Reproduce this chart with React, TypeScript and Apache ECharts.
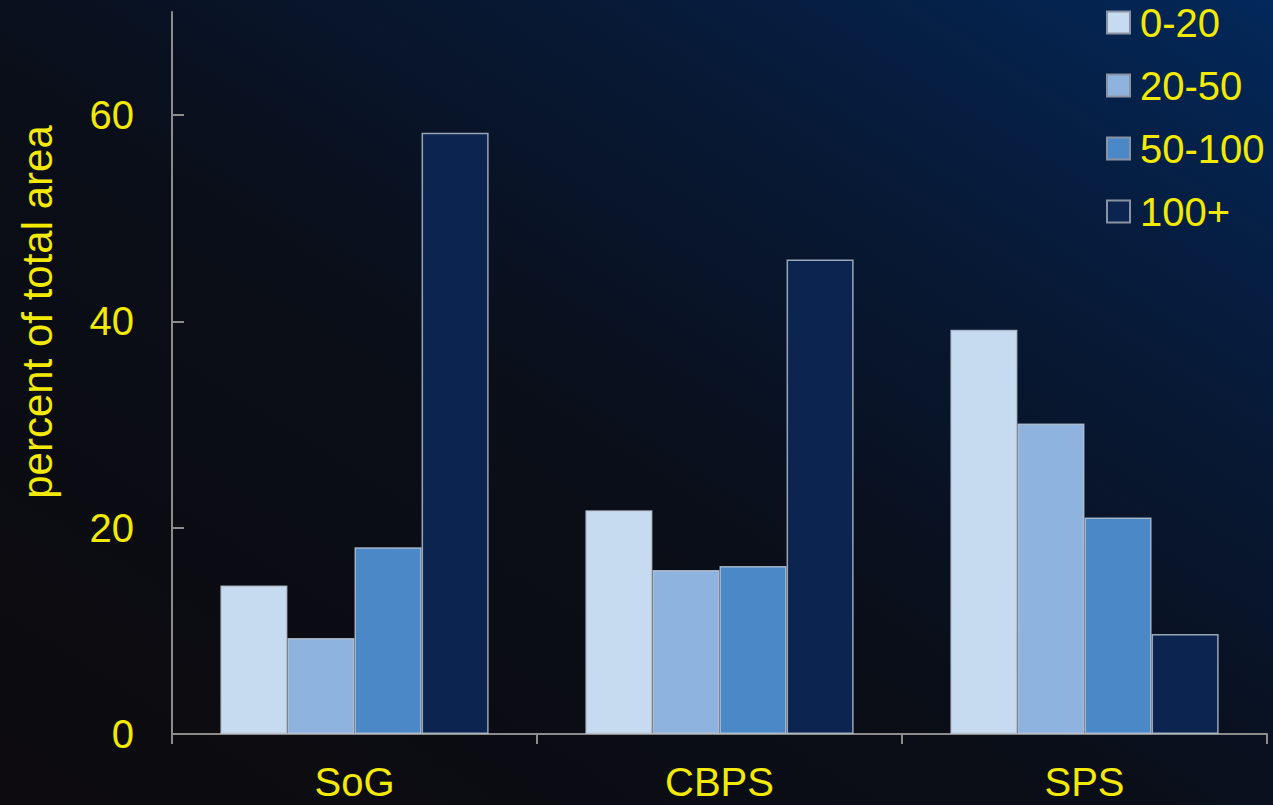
import React, { useEffect, useRef } from "react";
import * as echarts from "echarts";

const categories = ["SoG", "CBPS", "SPS"];
const seriesNames = ["0-20", "20-50", "50-100", "100+"];
const values0to20 = [14.4, 21.7, 39.2];
const values20to50 = [9.3, 15.9, 30.1];
const values50to100 = [18.1, 16.3, 21.0];
const values100plus = [58.3, 46.0, 9.7];
const yTicks = [0, 20, 40, 60];
const yAxisTitle = "percent of total area";
const barColors = ["#c6daf0", "#8fb3df", "#4a88c8", "#0b2550"];

const YELLOW = "#f2ea00";
const FONT = "'Liberation Sans', Arial, sans-serif";

export default function App() {
  const ref = useRef<HTMLDivElement>(null);
  useEffect(() => {
    if (!ref.current) return;
    const chart = echarts.init(ref.current, null, { renderer: "svg" });
    const data = [values0to20, values20to50, values50to100, values100plus];
    chart.setOption({
      animation: false,
      backgroundColor: new echarts.graphic.LinearGradient(0, 1, 1, 0, [
        { offset: 0, color: "#0d0b0e" },
        { offset: 0.45, color: "#0a0e18" },
        { offset: 0.75, color: "#071a38" },
        { offset: 1, color: "#03285a" },
      ]),
      grid: { left: 172, right: 6, top: 12, bottom: 71 },
      graphic: [
        {
          type: "text",
          x: 37,
          y: 312,
          rotation: Math.PI / 2,
          style: {
            text: yAxisTitle,
            fill: YELLOW,
            fontSize: 42,
            fontFamily: FONT,
            align: "center",
            verticalAlign: "middle",
          },
        },
      ],
      legend: {
        orient: "vertical",
        left: 1106,
        top: 2,
        padding: 0,
        icon: "rect",
        itemWidth: 23,
        itemHeight: 22,
        itemGap: 22,
        data: seriesNames,
        textStyle: { color: YELLOW, fontSize: 40, fontFamily: FONT, lineHeight: 41, padding: [0, 0, 0, 5] },
        itemStyle: { borderColor: "#8a93a3", borderWidth: 2 },
      },
      xAxis: {
        type: "category",
        data: categories,
        axisLine: { lineStyle: { color: "#8c8c8c", width: 2 } },
        axisTick: { show: true, length: 10, lineStyle: { color: "#8c8c8c", width: 2 } },
        axisLabel: { color: YELLOW, fontSize: 40, fontFamily: FONT, margin: 28 },
      },
      yAxis: {
        type: "value",
        min: 0,
        max: 70,
        interval: 20,
        splitLine: { show: false },
        axisLine: { show: true, lineStyle: { color: "#8c8c8c", width: 2 } },
        axisTick: { show: true, inside: true, length: 12, customValues: yTicks, lineStyle: { color: "#8c8c8c", width: 2 } },
        axisLabel: { color: YELLOW, fontSize: 40, fontFamily: FONT, margin: 38, customValues: yTicks },
      },
      series: seriesNames.map((name, i) => ({
        name,
        type: "bar",
        data: data[i],
        barGap: "0%",
        barCategoryGap: "26.5%",
        itemStyle: { color: barColors[i], borderColor: "rgba(190,200,215,0.8)", borderWidth: 1.5 },
      })),
    });
    return () => chart.dispose();
  }, []);
  return <div ref={ref} style={{ position: "absolute", left: 0, top: 0, width: 1273, height: 805 }} />;
}
